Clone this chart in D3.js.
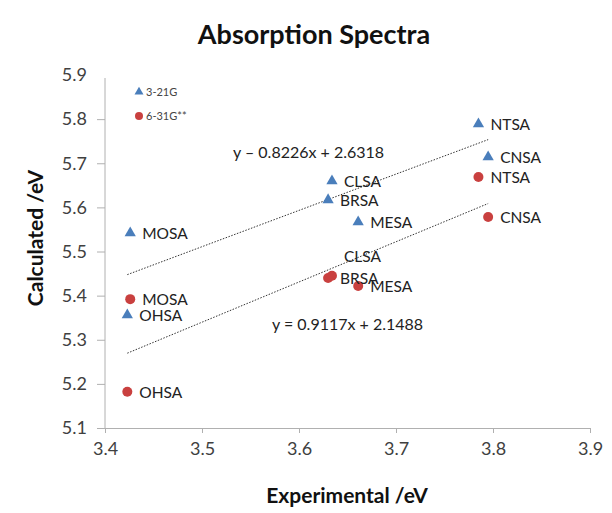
<!DOCTYPE html>
<html>
<head>
<meta charset="utf-8">
<script src="https://cdn.jsdelivr.net/npm/d3@7"></script>
<style>
  body { margin: 0; background: #fff; }
  text { font-family: Lato, "Open Sans", sans-serif; }
</style>
</head>
<body>
<svg id="chart" width="612" height="513"></svg>
<script>
// values
var molecules = ["MOSA", "OHSA", "CLSA", "BRSA", "MESA", "NTSA", "CNSA"];
var experimental = [3.426, 3.423, 3.634, 3.630, 3.661, 3.785, 3.795];
var calc321G = [5.542, 5.356, 5.660, 5.617, 5.567, 5.789, 5.714];
var calc631G = [5.392, 5.182, 5.445, 5.440, 5.422, 5.669, 5.578];
var seriesNames = ["3-21G", "6-31G**"];
var trendSlope = [0.8226, 0.9117];
var trendIntercept = [2.6318, 2.1488];
var trendLabels = ["y \u2013 0.8226x + 2.6318", "y = 0.9117x + 2.1488"];
var xTicks = [3.4, 3.5, 3.6, 3.7, 3.8, 3.9];
var yTicks = [5.1, 5.2, 5.3, 5.4, 5.5, 5.6, 5.7, 5.8, 5.9];

var blue = "#4a7ebb", red = "#c9403f";

var svg = d3.select("#chart");

var x = d3.scaleLinear().domain([3.4, 3.9]).range([105, 590]);
var y = d3.scaleLinear().domain([5.1, 5.9]).range([428, 75]);

// axes
var xAxis = svg.append("g").attr("transform", "translate(0,428)")
  .call(d3.axisBottom(x).tickValues(xTicks).tickFormat(d3.format(".1f")).tickSizeOuter(0).tickSize(5).tickPadding(9));
var yAxis = svg.append("g").attr("transform", "translate(105,0)")
  .call(d3.axisLeft(y).tickValues(yTicks).tickFormat(d3.format(".1f")).tickSizeOuter(0).tickSize(8).tickPadding(10));

[xAxis, yAxis].forEach(function(a) {
  a.select(".domain").attr("stroke", "#b0b0b0");
  a.selectAll(".tick line").attr("stroke", "#b0b0b0");
  a.selectAll(".tick text").attr("fill", "#404040").style("font-size", "18px");
});
// y axis line starts a bit below the 5.9 label, no tick there
yAxis.select(".domain").attr("d", "M0," + (y(5.9) + 3) + "V" + y(5.1));
yAxis.selectAll(".tick").filter(function(d) { return d == 5.9; }).select("line").remove();

// title and axis titles
svg.append("text").attr("x", 314).attr("y", 44).attr("text-anchor", "middle")
  .style("font-size", "27px").style("font-weight", "bold").attr("fill", "#111")
  .text("Absorption Spectra");
svg.append("text").attr("x", 347).attr("y", 503).attr("text-anchor", "middle")
  .style("font-size", "21px").style("font-weight", "bold").attr("fill", "#111")
  .text("Experimental /eV");
svg.append("text").attr("transform", "translate(43,238) rotate(-90)").attr("text-anchor", "middle")
  .style("font-size", "21px").style("font-weight", "bold").attr("fill", "#111")
  .text("Calculated /eV");

// trend lines
var allSeries = [calc321G, calc631G];
var eqPos = [[233, 158], [272, 330]];
allSeries.forEach(function(vals, i) {
  var ext = d3.extent(experimental);
  svg.append("line")
    .attr("x1", x(ext[0])).attr("y1", y(trendSlope[i] * ext[0] + trendIntercept[i]))
    .attr("x2", x(ext[1])).attr("y2", y(trendSlope[i] * ext[1] + trendIntercept[i]))
    .attr("stroke", "#333").attr("stroke-width", 1).attr("stroke-dasharray", "1.5,1.5");
  svg.append("text").attr("x", eqPos[i][0]).attr("y", eqPos[i][1])
    .style("font-size", "16px").attr("fill", "#222").text(trendLabels[i]);
});

var tri = d3.symbol().type(d3.symbolTriangle).size(55);

function points(vals) {
  return molecules.map(function(m, i) { return { name: m, x: experimental[i], y: vals[i] }; });
}

svg.selectAll("path.s1").data(points(calc321G)).enter().append("path")
  .attr("class", "s1")
  .attr("d", tri)
  .attr("transform", function(d) { return "translate(" + x(d.x) + "," + y(d.y) + ")"; })
  .attr("fill", blue);

svg.selectAll("circle.s2").data(points(calc631G)).enter().append("circle")
  .attr("class", "s2")
  .attr("cx", function(d) { return x(d.x); })
  .attr("cy", function(d) { return y(d.y); })
  .attr("r", 5)
  .attr("fill", red);

// data labels
function labelDy(d, series) {
  if (series == 2 && d.name == "CLSA") return -14;
  return 6;
}
[[calc321G, 1], [calc631G, 2]].forEach(function(s) {
  svg.selectAll("text.l" + s[1]).data(points(s[0])).enter().append("text")
    .attr("class", "l" + s[1])
    .attr("x", function(d) { return x(d.x) + 12; })
    .attr("y", function(d) { return y(d.y) + labelDy(d, s[1]); })
    .style("font-size", "15.5px").attr("fill", "#222")
    .text(function(d) { return d.name; });
});

// legend
var leg = svg.append("g");
leg.append("path").attr("d", d3.symbol().type(d3.symbolTriangle).size(35))
  .attr("transform", "translate(139,92)").attr("fill", blue);
leg.append("circle").attr("cx", 139).attr("cy", 116).attr("r", 4).attr("fill", red);
leg.selectAll("text.leg").data(seriesNames).enter().append("text")
  .attr("class", "leg")
  .attr("x", 146).attr("y", function(d, i) { return 96 + i * 24; })
  .style("font-size", "11px").attr("fill", "#444")
  .text(function(d) { return d; });
</script>
</body>
</html>
